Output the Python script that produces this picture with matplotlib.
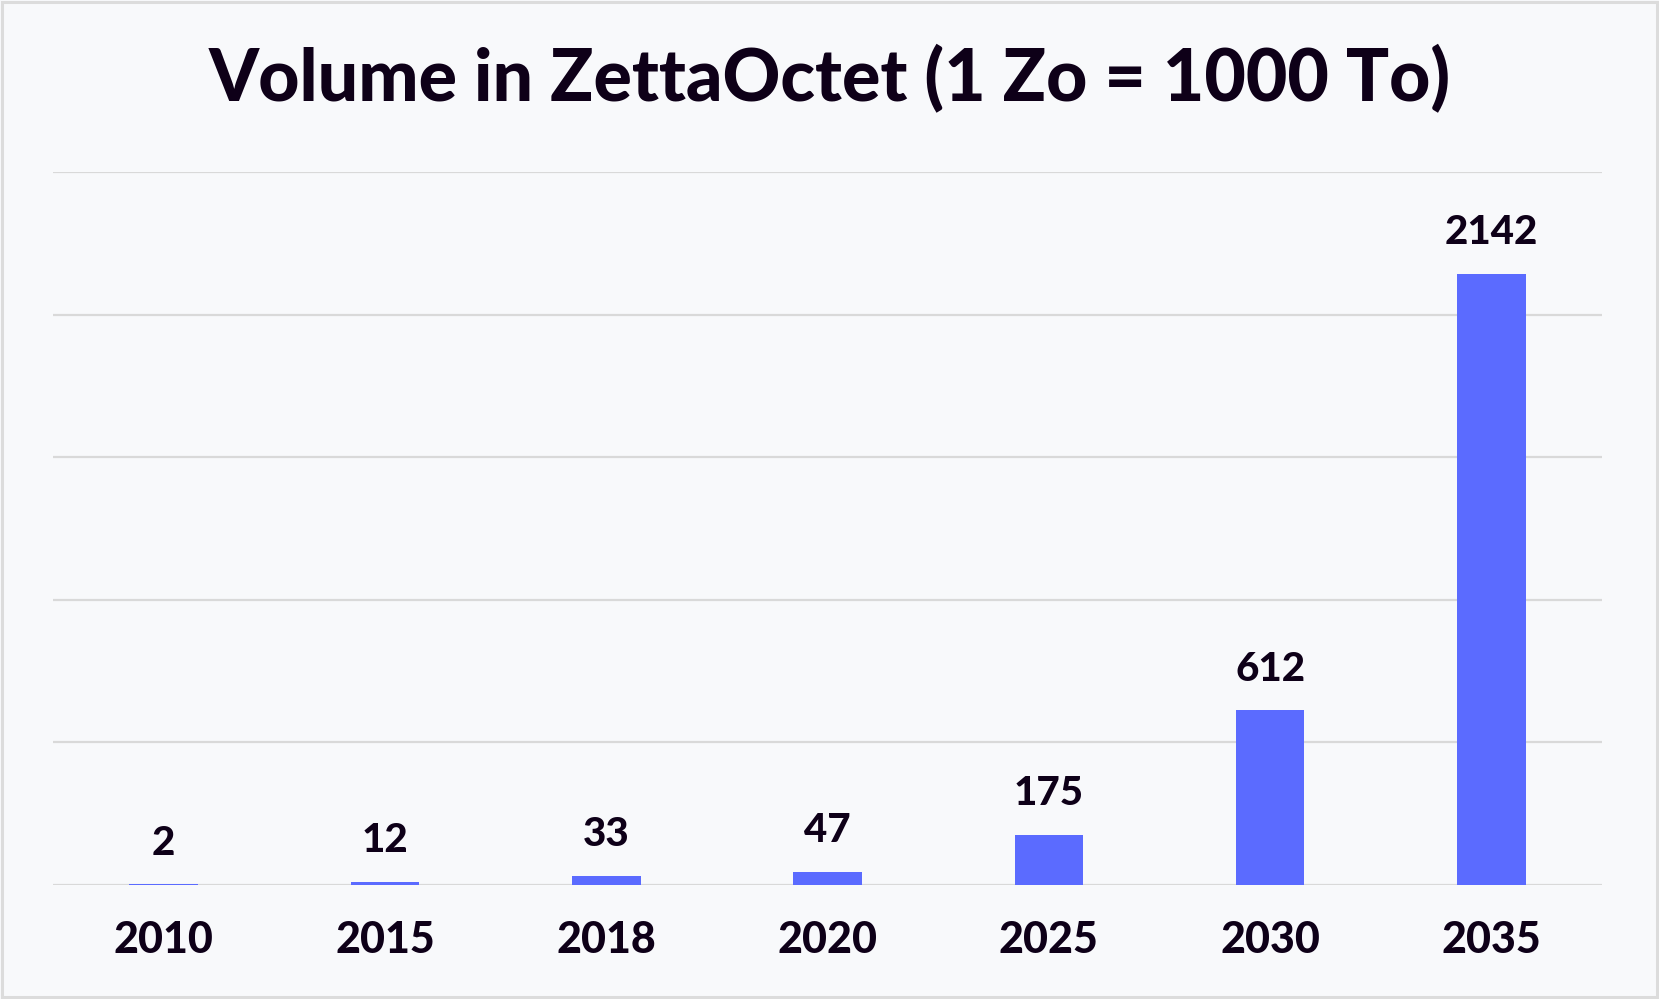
import matplotlib.pyplot as plt
from matplotlib.patches import Rectangle

years = ["2010", "2015", "2018", "2020", "2025", "2030", "2035"]
volumes = [2, 12, 33, 47, 175, 612, 2142]
grid_values = [0, 500, 1000, 1500, 2000, 2500]

title = "Volume in ZettaOctet (1 Zo = 1000 To)"
text_colour = "#0e0018"
bar_colour = "#5b6bff"
bg_colour = "#f8f9fb"

plt.rcParams["font.family"] = ["Lato", "DejaVu Sans"]

fig = plt.figure(figsize=(16.59, 9.99), dpi=100, facecolor=bg_colour)
ax = fig.add_axes([0.032, 0.1141, 0.9337, 0.7137])
ax.set_facecolor(bg_colour)

x = range(len(years))
ax.bar(x, volumes, width=0.31, color=bar_colour, zorder=3)

for xi, v in zip(x, volumes):
    ax.annotate(str(v), (xi, v), xytext=(0, 21.5), textcoords="offset points",
                ha="center", va="baseline", fontsize=29, fontweight="black",
                color=text_colour)

ax.set_xlim(-0.5, len(years) - 0.5)
ax.set_ylim(0, 2500)
ax.set_yticks(grid_values)
ax.set_yticklabels([])
ax.yaxis.grid(True, color="#d9d9d9", linewidth=1.6, zorder=0)
ax.tick_params(axis="y", length=0)
ax.set_xticks(list(x))
ax.set_xticklabels(years, fontsize=31, fontweight="black", color=text_colour)
ax.tick_params(axis="x", length=0, pad=25)
for s in ax.spines.values():
    s.set_visible(False)

fig.text(0.5, 1 - 101 / 999, title, ha="center", va="baseline", fontsize=51.5,
         fontweight="black", color=text_colour)

fig.patches.append(Rectangle((0.0015, 0.0025), 0.997, 0.995, transform=fig.transFigure,
                             fill=False, edgecolor="#dcdcdc", linewidth=2.2))

fig.savefig("out.png", dpi=100, facecolor=bg_colour)
